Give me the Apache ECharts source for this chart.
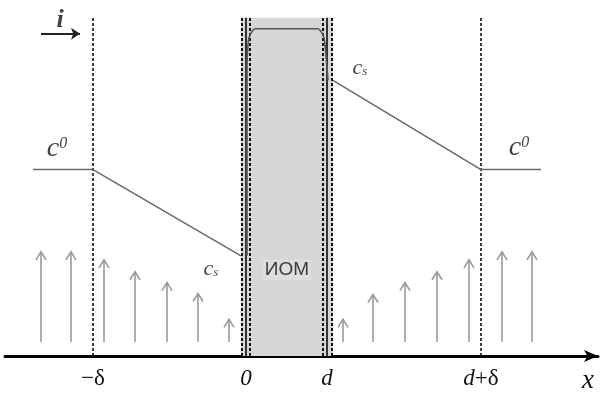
<!DOCTYPE html>
<html>
<head>
<meta charset="utf-8">
<script src="https://cdn.jsdelivr.net/npm/echarts@6/dist/echarts.min.js"></script>
<style>html,body{margin:0;padding:0;background:#fff}#c{width:600px;height:394px}</style>
</head>
<body>
<div id="c"></div>
<script>
// Positions along x (units: arbitrary length, 0 = membrane left face)
const tickValues = [-153, 0, 81, 235, 342];
const tickLabels = ['−δ', '0', 'd', 'd+δ', 'x'];
// Concentration profile pieces [x, c]
const profileLeft = [[-213, 188], [-153, 188], [-5, 101]];
const profileMembrane = [[1, 101], [1, 290], [2, 314], [4, 324], [9, 330], [72, 330], [77, 324], [79, 314], [81, 290], [82, 278]];
const profileRight = [[87, 278], [235, 188], [295, 188]];
// Flux arrows: x positions and tip heights
const arrowX = [-205, -175, -142, -111, -79, -48, -17, 97, 127, 159, 191, 223, 256, 286];
const arrowTip = [105, 105, 97, 85, 74, 63, 37, 37, 62, 74, 85, 97, 105, 105];
const arrowBase = 14;
// Boundaries
const diffusionLayerX = [-153, 235];
const membraneDashedX = [-4, 4, 77, 86];
const membraneSolidX = [0, 81];
const membraneSpan = [-5, 87];
const regionTop = 341;

const serif = '"Liberation Serif", "Times New Roman", serif';
const series = [];

series.push({
  type: 'line', data: [], silent: true,
  markArea: {
    silent: true,
    itemStyle: { color: '#d6d6d6' },
    data: [[{ xAxis: membraneSpan[0], yAxis: 0 }, { xAxis: membraneSpan[1], yAxis: regionTop }]]
  }
});

function vline(x, style) {
  series.push({
    type: 'line', data: [[x, 0], [x, regionTop]], symbol: 'none', silent: true,
    lineStyle: style, z: 3
  });
}
diffusionLayerX.forEach(x => vline(x, { color: '#111', width: 1.6, type: [3, 2] }));
membraneDashedX.forEach(x => vline(x, { color: '#111', width: 2, type: [3, 2] }));
membraneSolidX.forEach(x => vline(x, { color: '#333', width: 2 }));

[profileLeft, profileMembrane, profileRight].forEach((d, i) => {
  series.push({
    type: 'line', data: d, symbol: 'none', silent: true, smooth: i === 1 ? 0.2 : false,
    lineStyle: { color: i === 1 ? '#555' : '#6a6a6a', width: 1.6 }, z: 4
  });
});

series.push({
  type: 'custom', silent: true, z: 4,
  data: arrowX.map((x, i) => [x, arrowTip[i]]),
  renderItem: function (params, api) {
    const x = api.value(0), t = api.value(1);
    const p0 = api.coord([x, arrowBase]);
    const p1 = api.coord([x, t]);
    const st = { stroke: '#9a9a9a', lineWidth: 1.6, fill: null };
    return {
      type: 'group', children: [
        { type: 'line', shape: { x1: p0[0], y1: p0[1], x2: p1[0], y2: p1[1] }, style: st },
        { type: 'polyline', shape: { points: [[p1[0] - 5, p1[1] + 8], [p1[0], p1[1]], [p1[0] + 5, p1[1] + 8]] }, style: st }
      ]
    };
  }
});

// current direction arrow "i"
series.push({
  type: 'lines', coordinateSystem: 'cartesian2d', silent: true, z: 5,
  symbol: ['none', 'arrow'], symbolSize: 9,
  lineStyle: { color: '#222', width: 2, opacity: 1 },
  data: [{ coords: [[-205, 325], [-166, 325]] }]
});

// text annotations
const ann = [
  { v: [-186, 339], t: '{i|i}' },
  { v: [-189, 209], t: '{c|c}{sup|0}' },
  { v: [273, 210], t: '{c|c}{sup|0}' },
  { v: [114, 290], t: '{cs|c}{sub|s}' },
  { v: [-35, 88], t: '{cs|c}{sub|s}' },
  { v: [41, 87], t: '{m|ИОМ}' }
];
series.push({
  type: 'scatter', symbolSize: 0, silent: true, z: 6,
  data: ann.map(a => ({ value: a.v, label: { formatter: a.t } })),
  label: {
    show: true, position: 'inside', color: '#111',
    rich: {
      i: { fontFamily: serif, fontStyle: 'italic', fontWeight: 'bold', fontSize: 26, color: '#111' },
      c: { fontFamily: serif, fontStyle: 'italic', fontSize: 28, lineHeight: 26, color: '#111' },
      sup: { fontFamily: serif, fontStyle: 'italic', fontSize: 16, lineHeight: 16, verticalAlign: 'top', color: '#111' },
      cs: { fontFamily: serif, fontStyle: 'italic', fontSize: 22, lineHeight: 20, color: '#111' },
      sub: { fontFamily: serif, fontStyle: 'italic', fontSize: 13, lineHeight: 12, verticalAlign: 'bottom', color: '#111' },
      m: { fontFamily: '"Liberation Sans", Arial, sans-serif', fontSize: 19, color: '#111', backgroundColor: '#dedede', padding: [1, 2] }
    }
  }
});

const tickFormat = {
  '−δ': '{u|−δ}', '0': '{it|0}', 'd': '{it|d}', 'd+δ': '{it|d}{u|+δ}', 'x': '{x|x}'
};

const option = {
  animation: false,
  grid: { left: 5, right: 2, top: 0, bottom: 35 },
  xAxis: {
    type: 'value', min: -241, max: 352,
    axisLine: { onZero: false, symbol: ['none', 'arrow'], symbolSize: [9, 14], lineStyle: { color: '#000', width: 3 } },
    axisTick: { show: false }, splitLine: { show: false },
    axisLabel: {
      customValues: tickValues, margin: 11, color: '#111',
      formatter: function (v) { const i = tickValues.indexOf(v); return tickFormat[tickLabels[i]]; },
      rich: {
        u: { fontFamily: serif, fontSize: 23, color: '#111' },
        it: { fontFamily: serif, fontStyle: 'italic', fontSize: 23, color: '#111' },
        x: { fontFamily: serif, fontStyle: 'italic', fontSize: 27, color: '#111' }
      }
    }
  },
  yAxis: { type: 'value', min: 0, max: 359, show: false },
  series: series
};
const chart = echarts.init(document.getElementById('c'));
chart.setOption(option);
</script>
</body>
</html>
